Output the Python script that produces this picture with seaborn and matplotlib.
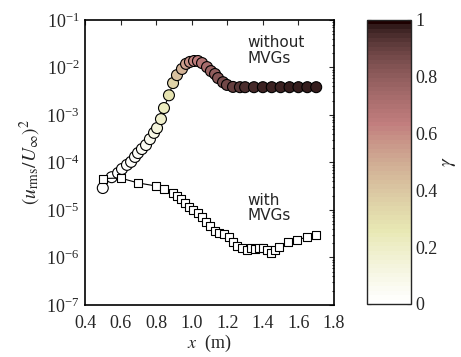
import numpy as np
import pandas as pd
import matplotlib
matplotlib.use("Agg")
import matplotlib.pyplot as plt
import seaborn as sns
from matplotlib.cm import ScalarMappable
from matplotlib.colors import Normalize
from matplotlib.ticker import LogLocator, NullFormatter

# ---- data ----
x_without = [0.50, 0.55, 0.586, 0.608, 0.636, 0.659, 0.681, 0.698, 0.720, 0.743,
             0.765, 0.788, 0.805, 0.827, 0.844, 0.872, 0.895, 0.917, 0.945, 0.968,
             0.990, 1.013, 1.035, 1.058, 1.086, 1.108, 1.131, 1.148, 1.176, 1.198,
             1.232, 1.271, 1.30, 1.35, 1.40, 1.45, 1.50, 1.55, 1.60, 1.65, 1.70]
y_without = [2.9e-5, 4.9e-5, 6.0e-5, 7.3e-5, 8.9e-5, 1.03e-4, 1.31e-4, 1.58e-4, 1.92e-4, 2.33e-4,
             3.1e-4, 4.2e-4, 5.3e-4, 8.2e-4, 1.4e-3, 2.6e-3, 4.7e-3, 6.9e-3, 9.3e-3, 1.19e-2,
             1.31e-2, 1.37e-2, 1.37e-2, 1.24e-2, 1.02e-2, 8.4e-3, 7.3e-3, 6.0e-3, 4.9e-3, 4.3e-3,
             3.9e-3, 3.85e-3, 3.85e-3, 3.85e-3, 3.85e-3, 3.85e-3, 3.85e-3, 3.85e-3, 3.85e-3, 3.85e-3, 3.85e-3]
gamma_without = [0.0, 0.0, 0.0, 0.01, 0.01, 0.02, 0.02, 0.03, 0.04, 0.05,
                 0.07, 0.10, 0.13, 0.18, 0.22, 0.28, 0.35, 0.42, 0.48, 0.54,
                 0.58, 0.62, 0.65, 0.69, 0.73, 0.77, 0.80, 0.83, 0.86, 0.88,
                 0.91, 0.93, 0.95, 0.96, 0.97, 0.97, 0.97, 0.98, 0.98, 0.98, 0.98]

x_with = [0.50, 0.60, 0.70, 0.80, 0.844, 0.895, 0.917, 0.940, 0.962, 0.985,
          1.007, 1.035, 1.058, 1.080, 1.103, 1.131, 1.153, 1.182, 1.210, 1.232,
          1.255, 1.283, 1.311, 1.333, 1.356, 1.378, 1.401, 1.423, 1.446, 1.468,
          1.491, 1.541, 1.592, 1.648, 1.699]
y_with = [4.6e-5, 4.7e-5, 3.7e-5, 3.2e-5, 2.77e-5, 2.28e-5, 1.97e-5, 1.7e-5, 1.4e-5, 1.16e-5,
          1.0e-5, 8.65e-6, 7.1e-6, 5.6e-6, 4.6e-6, 3.6e-6, 3.28e-6, 3.1e-6, 2.7e-6, 2.1e-6,
          1.75e-6, 1.58e-6, 1.44e-6, 1.58e-6, 1.5e-6, 1.58e-6, 1.58e-6, 1.44e-6, 1.24e-6, 1.44e-6,
          1.66e-6, 2.1e-6, 2.33e-6, 2.7e-6, 2.98e-6]

x_ticks = [0.4, 0.6, 0.8, 1.0, 1.2, 1.4, 1.6, 1.8]
cbar_ticks = [0, 0.2, 0.4, 0.6, 0.8, 1]
cbar_ticklabels = ["0", "0.2", "0.4", "0.6", "0.8", "1"]

df_wo = pd.DataFrame({"x": x_without, "y": y_without, "g": gamma_without})
df_w = pd.DataFrame({"x": x_with, "y": y_with})

# ---- style ----
sns.set_style("white")
plt.rcParams["font.family"] = ["Liberation Serif", "DejaVu Serif"]
plt.rcParams["mathtext.fontset"] = "stix"
plt.rcParams["xtick.direction"] = "in"
plt.rcParams["ytick.direction"] = "in"

fig = plt.figure(figsize=(4.61, 3.57), dpi=100)
ax = fig.add_axes([0.1844, 0.1457, 0.5401, 0.7983])
cax = fig.add_axes([0.796, 0.1485, 0.0954, 0.7955])

cmap = plt.get_cmap("pink_r")

sns.lineplot(data=df_wo, x="x", y="y", ax=ax, color="black", lw=0.8, sort=False, zorder=1)
sns.scatterplot(data=df_wo, x="x", y="y", hue="g", palette=cmap, hue_norm=(0, 1),
                ax=ax, s=62, edgecolor="black", linewidth=0.8, legend=False, zorder=2)
sns.lineplot(data=df_w, x="x", y="y", ax=ax, color="black", lw=0.8, sort=False, zorder=3)
sns.scatterplot(data=df_w, x="x", y="y", ax=ax, marker="s", s=40, color="white",
                edgecolor="black", linewidth=0.8, legend=False, zorder=4)

ax.set_yscale("log")
ax.set_xlim(0.4, 1.8)
ax.set_ylim(1e-7, 1e-1)
ax.set_xticks(x_ticks)
ax.set_xticklabels([f"{t:.1f}" for t in x_ticks])
ax.yaxis.set_major_locator(LogLocator(base=10, numticks=10))
ax.yaxis.set_minor_locator(LogLocator(base=10, subs=np.arange(2, 10), numticks=20))
ax.yaxis.set_minor_formatter(NullFormatter())
ax.tick_params(which="both", top=True, right=True, labelsize=13, width=0.8)
ax.tick_params(axis="x", pad=7)
ax.tick_params(axis="y", pad=4)
ax.tick_params(which="major", length=3.5)
ax.tick_params(which="minor", length=1.8)
for sp in ax.spines.values():
    sp.set_linewidth(1.2)
    sp.set_color("black")

ax.set_xlabel(r"$x$  (m)", fontsize=13, labelpad=1)
ax.set_ylabel(r"$(u_{\mathrm{rms}}/U_{\infty})^2$", fontsize=14, labelpad=2)

ax.text(1.315, 2.3e-2, "without\nMVGs", family="DejaVu Sans", fontsize=11,
        ha="left", va="center", linespacing=1.05)
ax.text(1.315, 1.1e-5, "with\nMVGs", family="DejaVu Sans", fontsize=11,
        ha="left", va="center", linespacing=1.05)

sm = ScalarMappable(norm=Normalize(0, 1), cmap=plt.get_cmap("pink_r", 64))
cb = fig.colorbar(sm, cax=cax, ticks=cbar_ticks)
cb.ax.set_yticklabels(cbar_ticklabels)
cb.ax.tick_params(labelsize=13, direction="in", length=3, width=0.8, left=True, right=True)
cb.outline.set_linewidth(1.0)
cb.set_label(r"$\gamma$", fontsize=14, labelpad=2)

fig.savefig("out.png", dpi=100)
